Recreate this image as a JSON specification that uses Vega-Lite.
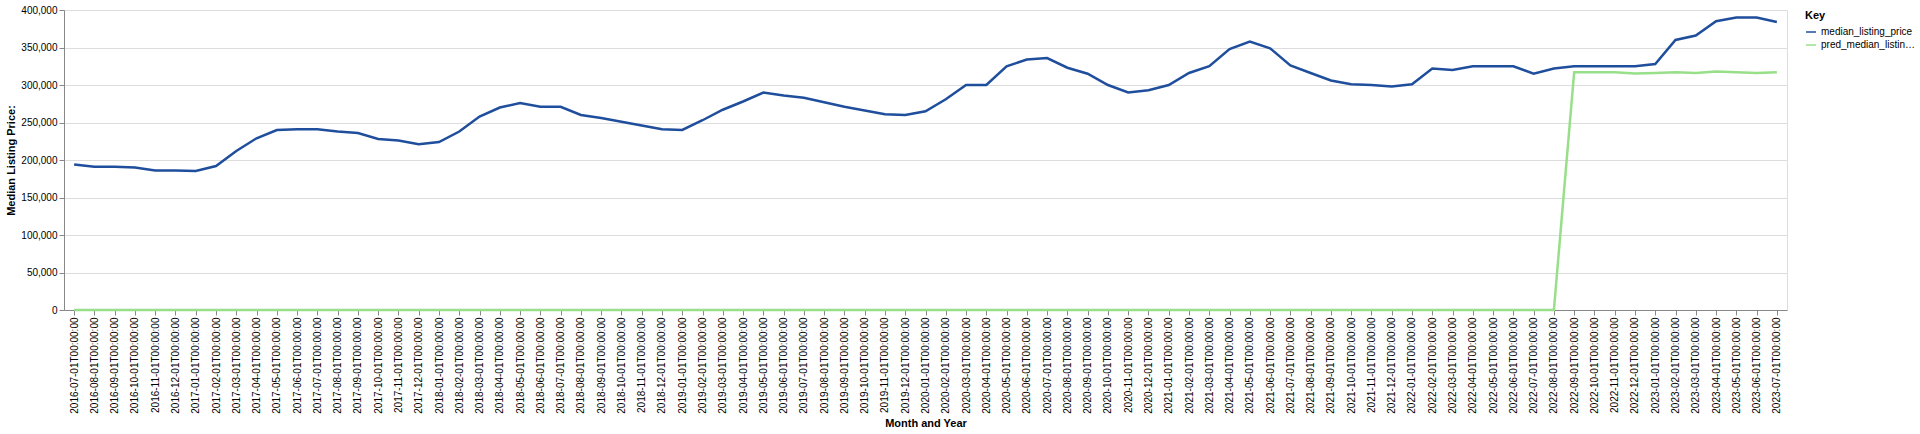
{
  "$schema": "https://vega.github.io/schema/vega-lite/v6.json",
  "width": 1920,
  "height": 434,
  "autosize": {"type": "fit", "contains": "padding"},
  "background": "white",
  "data": {
    "values": [
      {"m": "2016-07-01T00:00:00", "a": 194000, "p": 0},
      {"m": "2016-08-01T00:00:00", "a": 191000, "p": 0},
      {"m": "2016-09-01T00:00:00", "a": 191000, "p": 0},
      {"m": "2016-10-01T00:00:00", "a": 190000, "p": 0},
      {"m": "2016-11-01T00:00:00", "a": 186000, "p": 0},
      {"m": "2016-12-01T00:00:00", "a": 186000, "p": 0},
      {"m": "2017-01-01T00:00:00", "a": 185500, "p": 0},
      {"m": "2017-02-01T00:00:00", "a": 192000, "p": 0},
      {"m": "2017-03-01T00:00:00", "a": 212000, "p": 0},
      {"m": "2017-04-01T00:00:00", "a": 229000, "p": 0},
      {"m": "2017-05-01T00:00:00", "a": 240000, "p": 0},
      {"m": "2017-06-01T00:00:00", "a": 241000, "p": 0},
      {"m": "2017-07-01T00:00:00", "a": 241000, "p": 0},
      {"m": "2017-08-01T00:00:00", "a": 238000, "p": 0},
      {"m": "2017-09-01T00:00:00", "a": 236000, "p": 0},
      {"m": "2017-10-01T00:00:00", "a": 228000, "p": 0},
      {"m": "2017-11-01T00:00:00", "a": 226000, "p": 0},
      {"m": "2017-12-01T00:00:00", "a": 221000, "p": 0},
      {"m": "2018-01-01T00:00:00", "a": 224000, "p": 0},
      {"m": "2018-02-01T00:00:00", "a": 238000, "p": 0},
      {"m": "2018-03-01T00:00:00", "a": 258000, "p": 0},
      {"m": "2018-04-01T00:00:00", "a": 270000, "p": 0},
      {"m": "2018-05-01T00:00:00", "a": 276000, "p": 0},
      {"m": "2018-06-01T00:00:00", "a": 271000, "p": 0},
      {"m": "2018-07-01T00:00:00", "a": 271000, "p": 0},
      {"m": "2018-08-01T00:00:00", "a": 260000, "p": 0},
      {"m": "2018-09-01T00:00:00", "a": 256000, "p": 0},
      {"m": "2018-10-01T00:00:00", "a": 251000, "p": 0},
      {"m": "2018-11-01T00:00:00", "a": 246000, "p": 0},
      {"m": "2018-12-01T00:00:00", "a": 241000, "p": 0},
      {"m": "2019-01-01T00:00:00", "a": 240000, "p": 0},
      {"m": "2019-02-01T00:00:00", "a": 253000, "p": 0},
      {"m": "2019-03-01T00:00:00", "a": 267000, "p": 0},
      {"m": "2019-04-01T00:00:00", "a": 278000, "p": 0},
      {"m": "2019-05-01T00:00:00", "a": 290000, "p": 0},
      {"m": "2019-06-01T00:00:00", "a": 286000, "p": 0},
      {"m": "2019-07-01T00:00:00", "a": 283000, "p": 0},
      {"m": "2019-08-01T00:00:00", "a": 277000, "p": 0},
      {"m": "2019-09-01T00:00:00", "a": 271000, "p": 0},
      {"m": "2019-10-01T00:00:00", "a": 266000, "p": 0},
      {"m": "2019-11-01T00:00:00", "a": 261000, "p": 0},
      {"m": "2019-12-01T00:00:00", "a": 260000, "p": 0},
      {"m": "2020-01-01T00:00:00", "a": 265000, "p": 0},
      {"m": "2020-02-01T00:00:00", "a": 281000, "p": 0},
      {"m": "2020-03-01T00:00:00", "a": 300000, "p": 0},
      {"m": "2020-04-01T00:00:00", "a": 300000, "p": 0},
      {"m": "2020-05-01T00:00:00", "a": 325000, "p": 0},
      {"m": "2020-06-01T00:00:00", "a": 334000, "p": 0},
      {"m": "2020-07-01T00:00:00", "a": 336000, "p": 0},
      {"m": "2020-08-01T00:00:00", "a": 323000, "p": 0},
      {"m": "2020-09-01T00:00:00", "a": 315000, "p": 0},
      {"m": "2020-10-01T00:00:00", "a": 300000, "p": 0},
      {"m": "2020-11-01T00:00:00", "a": 290000, "p": 0},
      {"m": "2020-12-01T00:00:00", "a": 293000, "p": 0},
      {"m": "2021-01-01T00:00:00", "a": 300000, "p": 0},
      {"m": "2021-02-01T00:00:00", "a": 316000, "p": 0},
      {"m": "2021-03-01T00:00:00", "a": 325000, "p": 0},
      {"m": "2021-04-01T00:00:00", "a": 348000, "p": 0},
      {"m": "2021-05-01T00:00:00", "a": 358000, "p": 0},
      {"m": "2021-06-01T00:00:00", "a": 349000, "p": 0},
      {"m": "2021-07-01T00:00:00", "a": 326000, "p": 0},
      {"m": "2021-08-01T00:00:00", "a": 316000, "p": 0},
      {"m": "2021-09-01T00:00:00", "a": 306000, "p": 0},
      {"m": "2021-10-01T00:00:00", "a": 301000, "p": 0},
      {"m": "2021-11-01T00:00:00", "a": 300000, "p": 0},
      {"m": "2021-12-01T00:00:00", "a": 298000, "p": 0},
      {"m": "2022-01-01T00:00:00", "a": 301000, "p": 0},
      {"m": "2022-02-01T00:00:00", "a": 322000, "p": 0},
      {"m": "2022-03-01T00:00:00", "a": 320000, "p": 0},
      {"m": "2022-04-01T00:00:00", "a": 325000, "p": 0},
      {"m": "2022-05-01T00:00:00", "a": 325000, "p": 0},
      {"m": "2022-06-01T00:00:00", "a": 325000, "p": 0},
      {"m": "2022-07-01T00:00:00", "a": 315000, "p": 0},
      {"m": "2022-08-01T00:00:00", "a": 322000, "p": 0},
      {"m": "2022-09-01T00:00:00", "a": 325000, "p": 317000},
      {"m": "2022-10-01T00:00:00", "a": 325000, "p": 317000},
      {"m": "2022-11-01T00:00:00", "a": 325000, "p": 317000},
      {"m": "2022-12-01T00:00:00", "a": 325000, "p": 315500},
      {"m": "2023-01-01T00:00:00", "a": 328000, "p": 316000},
      {"m": "2023-02-01T00:00:00", "a": 360000, "p": 317000},
      {"m": "2023-03-01T00:00:00", "a": 366000, "p": 316000},
      {"m": "2023-04-01T00:00:00", "a": 385000, "p": 318000},
      {"m": "2023-05-01T00:00:00", "a": 390000, "p": 317000},
      {"m": "2023-06-01T00:00:00", "a": 390000, "p": 316000},
      {"m": "2023-07-01T00:00:00", "a": 384000, "p": 317000}
    ]
  },
  "transform": [
    {"fold": ["a", "p"], "as": ["series", "value"]},
    {"lookup": "series", "from": {"data": {"values": [
      {"series": "a", "name": "median_listing_price"},
      {"series": "p", "name": "pred_median_listing_price"}
    ]}, "key": "series", "fields": ["name"]}}
  ],
  "mark": {"type": "line", "strokeWidth": 2.5},
  "encoding": {
    "x": {
      "field": "m",
      "type": "ordinal",
      "title": "Month and Year",
      "axis": {"labelAngle": -90, "labelFontSize": 10, "titleFontSize": 11}
    },
    "y": {
      "field": "value",
      "type": "quantitative",
      "title": "Median Listing Price:",
      "scale": {"domain": [0, 400000]},
      "axis": {"format": ",d", "tickCount": 8, "labelFontSize": 10, "titleFontSize": 11}
    },
    "color": {
      "field": "name",
      "type": "nominal",
      "title": "Key",
      "scale": {"domain": ["median_listing_price", "pred_median_listing_price"], "range": ["#1f4e9c", "#98df8a"]},
      "legend": {"labelLimit": 95, "titleFontSize": 11, "labelFontSize": 10}
    }
  }
}
